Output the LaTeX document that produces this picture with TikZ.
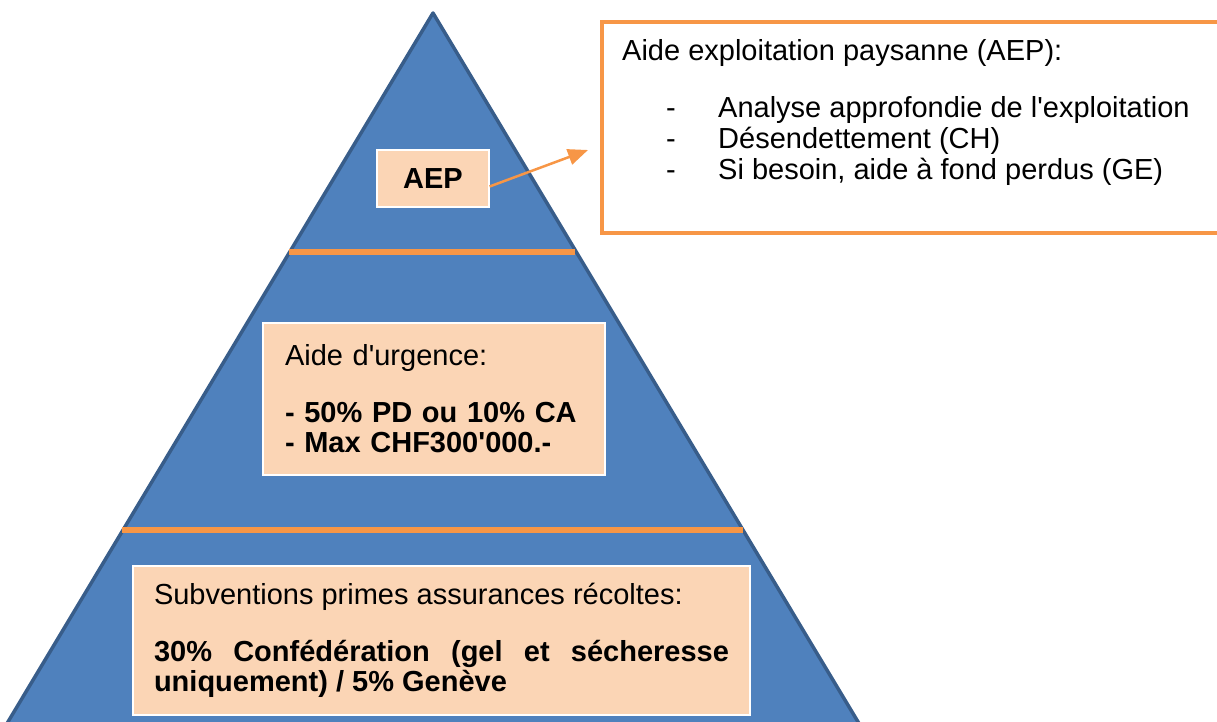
\documentclass[tikz,border=0pt]{standalone}
\usepackage{fontspec}
\setmainfont{Liberation Sans}
\usetikzlibrary{arrows.meta}

\definecolor{pyrblue}{RGB}{79,129,189}
\definecolor{pyredge}{RGB}{56,93,138}
\definecolor{pyrorange}{RGB}{247,150,70}
\definecolor{pyrpeach}{RGB}{251,213,181}

\tikzset{
  level/.style={draw=white, line width=1.2pt, fill=pyrpeach, inner sep=0pt},
  divider/.style={pyrorange, line width=6pt},
  pointer/.style={pyrorange, line width=2.5pt, -{Triangle[length=20pt,width=16pt]}},
}
\newcommand{\bigtxt}{\fontsize{29}{30}\selectfont}
\newcommand{\listtxt}{\fontsize{29}{31}\selectfont}
\newcommand{\dashitem}{\hspace*{44pt}\makebox[52pt][l]{-}}

\begin{document}
\begin{tikzpicture}[x=1pt, y=-1pt]

\useasboundingbox ( 0, 0 ) rectangle ( 1217, 722 );
\clip ( 0, 0 ) rectangle ( 1217, 722 );

% Pyramid
\filldraw [fill=pyrblue, draw=pyredge, line width=3.5pt, line join=round] ( 433, 13 ) -- ( 1008, 972 ) -- ( -142, 972 ) -- cycle;

% Dividers
\draw [divider] ( 289, 252 ) -- ( 575, 252 );
\draw [divider] ( 122, 530 ) -- ( 743, 530 );

% Levels
\node [level, minimum width=112pt, minimum height=57pt, font=\bfseries\bigtxt] (aep) at ( 433, 178.5 ) {AEP};

\node [level, minimum width=342pt, minimum height=152pt, text width=298pt, align=left, font=\bigtxt] (urgence) at ( 434, 399 )
  {Aide d\textquotesingle urgence:\\[27pt]
   \textbf{- 50\% PD ou 10\% CA}\\
   \textbf{- Max CHF300\textquotesingle 000.-}};

\node [level, minimum width=617pt, minimum height=149pt, text width=575pt, align=justify, font=\bigtxt] (subsidy) at ( 441.5, 640.5 )
  {Subventions primes assurances récoltes:\\[27pt]
   \textbf{30\% Confédération (gel et sécheresse\linebreak uniquement) / 5\% Genève}};

% Detail box
\node [draw=pyrorange, line width=4pt, fill=white, minimum width=650pt, minimum height=211pt, anchor=north west, inner sep=0pt] (detail) at ( 600, 20 ) {};
\node [anchor=north west, inner sep=0pt, align=left, font=\listtxt] (detailtext) at ( 622, 39 )
  {Aide exploitation paysanne (AEP):\\[26pt]
   \dashitem Analyse approfondie de l\textquotesingle exploitation\\
   \dashitem Désendettement (CH)\\
   \dashitem Si besoin, aide à fond perdus (GE)};

% Arrow
\coordinate (tip) at ( 588, 150 );
\draw [pointer] ([yshift=-8pt]aep.east) -- (tip);

\end{tikzpicture}
\end{document}
